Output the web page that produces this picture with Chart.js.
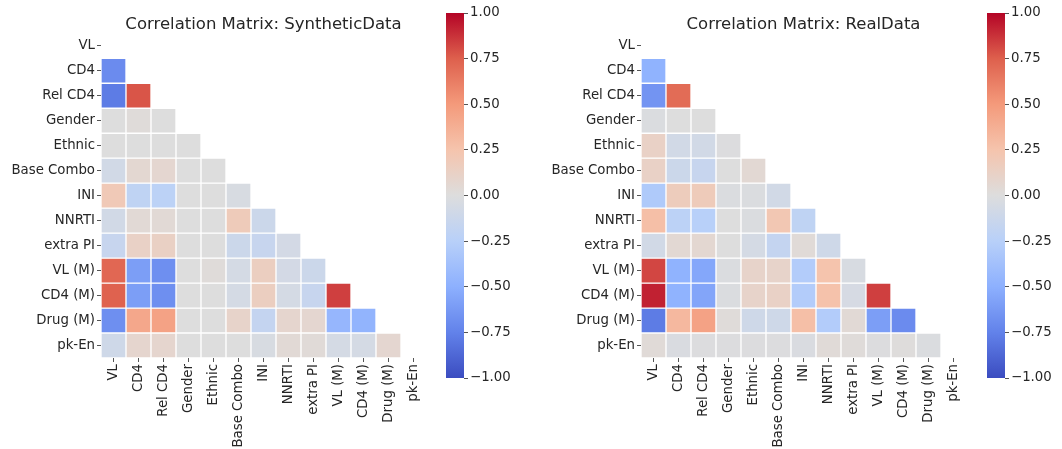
<!DOCTYPE html>
<html>
<head>
<meta charset="utf-8">
<script src="https://cdn.jsdelivr.net/npm/chart.js@4.4.1/dist/chart.umd.min.js"></script>
<style>
  html, body { margin: 0; padding: 0; background: #fff; overflow: hidden; }
  #wrap { position: relative; width: 1062px; height: 449px; }
  .box { position: absolute; top: 0; height: 449px; }
</style>
</head>
<body>
<div id="wrap">
  <div class="box" style="left:0;width:527px"><canvas id="synHeat"></canvas></div>
  <div class="box" style="left:446px;width:80px"><canvas id="synBar"></canvas></div>
  <div class="box" style="left:540px;width:522px"><canvas id="realHeat"></canvas></div>
  <div class="box" style="left:987px;width:75px"><canvas id="realBar"></canvas></div>
</div>
<script>
var labels = ['VL', 'CD4', 'Rel CD4', 'Gender', 'Ethnic', 'Base Combo', 'INI',
              'NNRTI', 'extra PI', 'VL (M)', 'CD4 (M)', 'Drug (M)', 'pk-En'];
var cbarTicks = [-1, -0.75, -0.5, -0.25, 0, 0.25, 0.5, 0.75, 1];

// lower triangle only (row i has i values)
var synVL = [];
var synCD4 = [-0.70];
var synRelCD4 = [-0.78, 0.78];
var synGender = [0.00, 0.02, 0.00];
var synEthnic = [0.00, 0.00, 0.00, 0.00];
var synBaseCombo = [-0.08, 0.06, 0.07, 0.00, 0.00];
var synINI = [0.20, -0.20, -0.22, 0.00, 0.00, -0.04];
var synNNRTI = [-0.08, 0.04, 0.04, 0.00, 0.00, 0.18, -0.12];
var synExtraPI = [-0.15, 0.12, 0.13, 0.00, 0.00, -0.12, -0.15, -0.07];
var synVLM = [0.72, -0.60, -0.68, 0.00, 0.02, -0.06, 0.15, -0.07, -0.12];
var synCD4M = [0.74, -0.60, -0.68, 0.00, 0.00, -0.06, 0.15, -0.06, -0.15, 0.84];
var synDrugM = [-0.68, 0.42, 0.45, 0.00, 0.00, 0.10, -0.17, 0.08, 0.07, -0.45, -0.47];
var synPkEn = [-0.10, 0.08, 0.08, 0.00, 0.00, 0.00, -0.04, 0.04, 0.03, -0.06, -0.06, 0.07];

var realVL = [];
var realCD4 = [-0.48];
var realRelCD4 = [-0.65, 0.70];
var realGender = [-0.02, 0.00, 0.00];
var realEthnic = [0.12, -0.08, -0.08, -0.01];
var realBaseCombo = [0.12, -0.12, -0.15, 0.00, 0.05];
var realINI = [-0.30, 0.17, 0.18, -0.02, -0.02, -0.08];
var realNNRTI = [0.28, -0.22, -0.25, 0.00, -0.02, 0.22, -0.20];
var realExtraPI = [-0.08, 0.05, 0.06, 0.00, -0.06, -0.17, 0.03, -0.10];
var realVLM = [0.82, -0.48, -0.55, -0.02, 0.10, 0.10, -0.28, 0.25, -0.04];
var realCD4M = [0.92, -0.48, -0.56, -0.02, 0.10, 0.12, -0.28, 0.26, -0.05, 0.84];
var realDrugM = [-0.78, 0.32, 0.45, 0.02, -0.10, -0.10, 0.28, -0.28, 0.04, -0.60, -0.70];
var realPkEn = [0.03, -0.03, -0.01, -0.01, -0.01, -0.01, -0.03, 0.03, 0.02, -0.01, 0.01, -0.02];

var synthetic = [synVL, synCD4, synRelCD4, synGender, synEthnic, synBaseCombo, synINI,
                 synNNRTI, synExtraPI, synVLM, synCD4M, synDrugM, synPkEn];
var real = [realVL, realCD4, realRelCD4, realGender, realEthnic, realBaseCombo, realINI,
            realNNRTI, realExtraPI, realVLM, realCD4M, realDrugM, realPkEn];

// matplotlib coolwarm, sampled
var cw = [[59,76,192],[98,130,234],[141,176,254],[184,208,249],[221,221,221],
          [245,196,173],[244,154,123],[222,96,77],[180,4,38]];
function coolwarm(v) {
    var t = Math.max(0, Math.min(1, (v + 1) / 2)) * (cw.length - 1);
    var k = Math.min(Math.floor(t), cw.length - 2);
    var f = t - k;
    var c = cw[k].map(function(a, n) { return Math.round(a + (cw[k + 1][n] - a) * f); });
    return 'rgb(' + c.join(',') + ')';
}

var FONT = "'DejaVu Sans', sans-serif";
var TXT = '#262626';

function heatmap(id, title, rows, padRight) {
    var datasets = rows.map(function(row, i) {
        return {
            data: labels.map(function(_, j) { return j < i ? [i - 0.5, i + 0.5] : null; }),
            backgroundColor: labels.map(function(_, j) { return j < i ? coolwarm(row[j]) : 'rgba(0,0,0,0)'; }),
            borderColor: 'rgba(255,255,255,0.55)',
            borderWidth: 1,
            borderSkipped: false,
            grouped: false,
            barPercentage: 1,
            categoryPercentage: 1
        };
    });
    return new Chart(document.getElementById(id), {
        type: 'bar',
        data: { labels: labels, datasets: datasets },
        options: {
            responsive: true,
            maintainAspectRatio: false,
            animation: false,
            layout: { padding: { right: padRight, left: 0, top: 0, bottom: 0 } },
            plugins: {
                legend: { display: false },
                tooltip: { enabled: false },
                title: {
                    display: true,
                    text: title,
                    fullSize: false,
                    color: TXT,
                    font: { family: FONT, size: 16.5, weight: 'normal', lineHeight: 1 },
                    padding: { top: 16, bottom: 0.8 }
                }
            },
            scales: {
                x: {
                    grid: { offset: false, drawOnChartArea: false, tickLength: 4, color: '#555' },
                    border: { display: false },
                    ticks: { color: TXT, font: { family: FONT, size: 13.3 }, minRotation: 90, maxRotation: 90, autoSkip: false, padding: 2 },
                    afterFit: function(s) { s.height = 91; }
                },
                y: {
                    min: -0.5,
                    max: labels.length - 0.5,
                    reverse: true,
                    grid: { drawOnChartArea: false, tickLength: 4, color: '#555' },
                    border: { display: false },
                    ticks: {
                        color: TXT,
                        font: { family: FONT, size: 13.3 },
                        padding: 2,
                        callback: function(v) { return labels[v]; }
                    },
                    afterBuildTicks: function(s) { s.ticks = labels.map(function(_, i) { return { value: i }; }); },
                    afterFit: function(s) { s.width = 101; }
                }
            }
        }
    });
}

function colorbar(id, axisWidth) {
    return new Chart(document.getElementById(id), {
        type: 'bar',
        data: {
            labels: ['cbar'],
            datasets: [{
                data: [[-1, 1]],
                barPercentage: 1,
                categoryPercentage: 1,
                backgroundColor: function(ctx) {
                    var area = ctx.chart.chartArea;
                    if (!area) return null;
                    var g = ctx.chart.ctx.createLinearGradient(0, area.bottom, 0, area.top);
                    cw.forEach(function(c, n) { g.addColorStop(n / (cw.length - 1), 'rgb(' + c.join(',') + ')'); });
                    return g;
                }
            }]
        },
        options: {
            responsive: true,
            maintainAspectRatio: false,
            animation: false,
            layout: { padding: { top: 13, bottom: 71, left: 0, right: 0 } },
            plugins: { legend: { display: false }, tooltip: { enabled: false } },
            scales: {
                x: { display: false },
                y: {
                    position: 'right',
                    min: -1,
                    max: 1,
                    grid: { drawOnChartArea: false, tickLength: 4, color: '#555' },
                    border: { display: false },
                    ticks: {
                        color: TXT,
                        font: { family: FONT, size: 13.3 },
                        padding: 2,
                        callback: function(v) { return (v < 0 ? '\u2212' : '') + Math.abs(v).toFixed(2); }
                    },
                    afterBuildTicks: function(s) { s.ticks = cbarTicks.map(function(v) { return { value: v }; }); },
                    afterFit: function(s) { s.width = axisWidth; }
                }
            }
        }
    });
}

heatmap('synHeat', 'Correlation Matrix: SyntheticData', synthetic, 101);
colorbar('synBar', 62);
heatmap('realHeat', 'Correlation Matrix: RealData', real, 96);
colorbar('realBar', 57);
</script>
</body>
</html>
